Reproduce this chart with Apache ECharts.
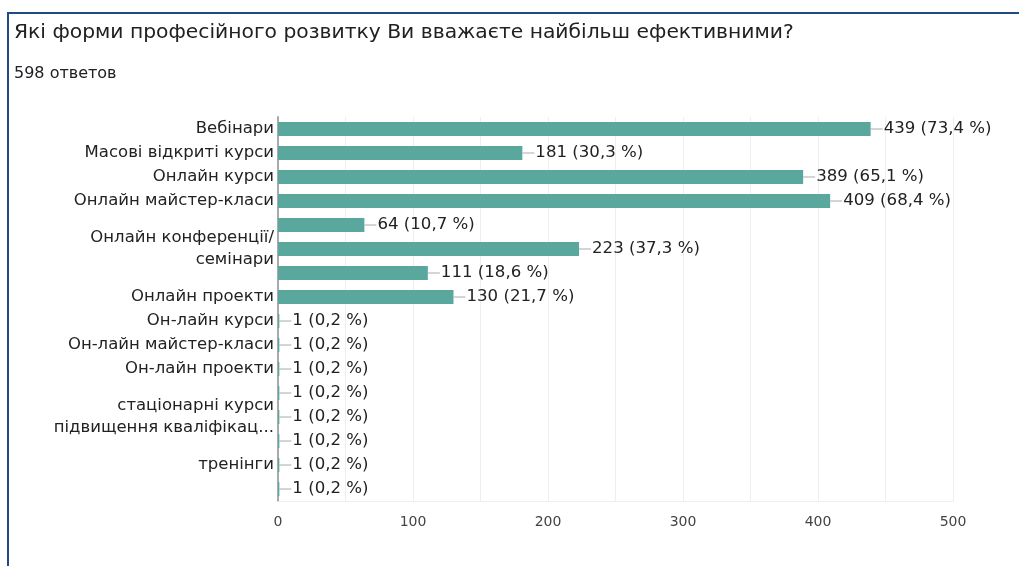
<!DOCTYPE html>
<html>
<head>
<meta charset="utf-8">
<script src="https://cdn.jsdelivr.net/npm/echarts@6/dist/echarts.min.js"></script>
<style>
html,body{margin:0;padding:0;background:#fff;}
#c{width:1019px;height:566px;}
</style>
</head>
<body>
<div id="c"></div>
<script>
const categories = [
  'Вебінари',
  'Масові відкриті курси',
  'Онлайн курси',
  'Онлайн майстер-класи',
  '',
  'Онлайн конференції/\nсемінари',
  '',
  'Онлайн проекти',
  'Он-лайн курси',
  'Он-лайн майстер-класи',
  'Он-лайн проекти',
  '',
  'стаціонарні курси\nпідвищення кваліфікац...',
  '',
  'тренінги',
  ''
];
const counts = [439, 181, 389, 409, 64, 223, 111, 130, 1, 1, 1, 1, 1, 1, 1, 1];
const percents = ['73,4', '30,3', '65,1', '68,4', '10,7', '37,3', '18,6', '21,7', '0,2', '0,2', '0,2', '0,2', '0,2', '0,2', '0,2', '0,2'];
const xTickLabels = [0, 100, 200, 300, 400, 500];
const titleText = 'Які форми професійного розвитку Ви вважаєте найбільш ефективними?';
const subtitleText = '598 ответов';

const chart = echarts.init(document.getElementById('c'), null, {renderer: 'canvas'});
const font = '"DejaVu Sans", sans-serif';
chart.setOption({
  animation: false,
  title: [
    {text: titleText, left: 9, top: 18, textStyle: {fontFamily: font, fontSize: 20.3, fontWeight: 'normal', color: '#202124'}},
    {text: subtitleText, left: 9, top: 61, textStyle: {fontFamily: font, fontSize: 16, fontWeight: 'normal', color: '#202124'}}
  ],
  graphic: [
    {type: 'line', shape: {x1: 8, y1: 13, x2: 1019, y2: 13}, style: {stroke: '#1f4a85', lineWidth: 2}},
    {type: 'line', shape: {x1: 8, y1: 12, x2: 8, y2: 566}, style: {stroke: '#1f4a85', lineWidth: 2}}
  ],
  grid: {left: 278, right: 66, top: 117, bottom: 65, containLabel: false},
  xAxis: {
    type: 'value', min: 0, max: 500, interval: 50,
    axisLine: {show: true, lineStyle: {color: '#eeeeee'}},
    axisTick: {show: false},
    splitLine: {show: true, lineStyle: {color: '#eeeeee'}},
    axisLabel: {
      fontFamily: font, fontSize: 14, color: '#444', margin: 14,
      formatter: v => xTickLabels.indexOf(v) >= 0 ? String(v) : ''
    }
  },
  yAxis: {
    type: 'category', data: categories, inverse: true,
    axisLine: {show: true, lineStyle: {color: '#aaaaaa', width: 2}},
    axisTick: {show: false},
    axisLabel: {interval: 0, fontFamily: font, fontSize: 16.5, color: '#222', margin: 4, lineHeight: 22, align: 'right'}
  },
  series: [{
    type: 'bar',
    data: counts,
    barWidth: 14,
    itemStyle: {color: '#5aa89d'},
    label: {
      show: true, position: 'right', distance: 0,
      formatter: p => '{l|}{v|' + counts[p.dataIndex] + ' (' + percents[p.dataIndex] + ' %)}',
      rich: {
        l: {width: 12, height: 1, backgroundColor: '#aaaaaa'},
        v: {fontFamily: font, fontSize: 16.6, color: '#222', padding: [0, 0, 0, 1]}
      }
    }
  }]
});
</script>
</body>
</html>
